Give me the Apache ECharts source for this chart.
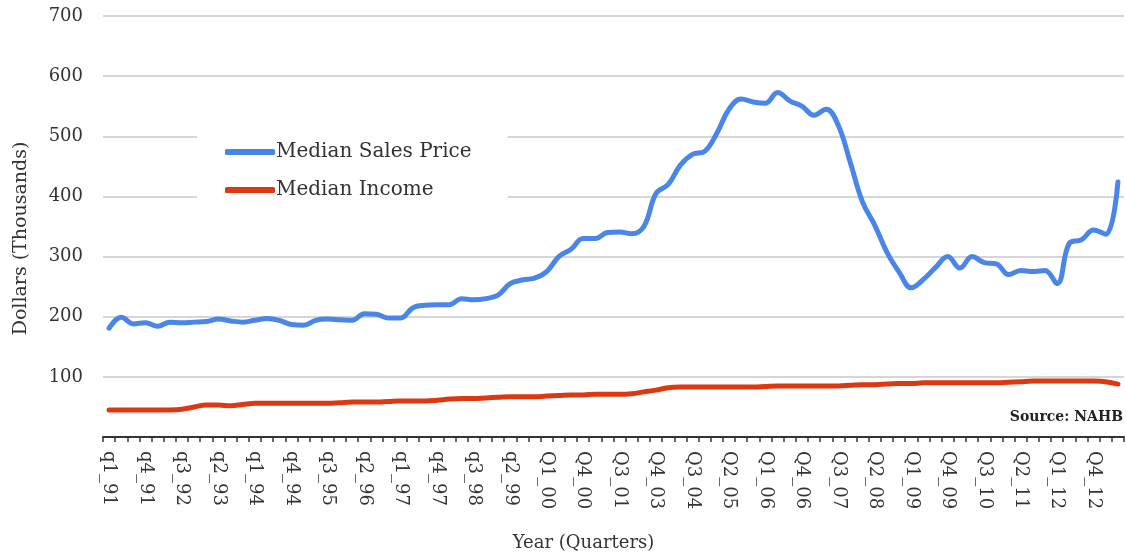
<!DOCTYPE html>
<html lang="en">
<head>
    <meta charset="UTF-8">
    <title>Median Sales Price vs Median Income</title>
    <script src="https://cdn.jsdelivr.net/npm/echarts@6.0.0/dist/echarts.min.js"></script>
    <style>
        html, body { margin: 0; padding: 0; background: #fff; }
        #chartmain { width: 1126px; height: 554px; }
    </style>
</head>
<body>
<div id="chartmain"></div>

<script>
    // quarters (the 2002 gap is in the source data)
    var quarters = [
        'q1_91', 'q2_91', 'q3_91', 'q4_91', 'q1_92', 'q2_92', 'q3_92', 'q4_92',
        'q1_93', 'q2_93', 'q3_93', 'q4_93', 'q1_94', 'q2_94', 'q3_94', 'q4_94',
        'q1_95', 'q2_95', 'q3_95', 'q4_95', 'q1_96', 'q2_96', 'q3_96', 'q4_96',
        'q1_97', 'q2_97', 'q3_97', 'q4_97', 'q1_98', 'q2_98', 'q3_98', 'q4_98',
        'q1_99', 'q2_99', 'q3_99', 'q4_99', 'Q1_00', 'Q2_00', 'Q3_00', 'Q4_00',
        'Q1_01', 'Q2_01', 'Q3_01', 'Q4_01', 'Q3_03', 'Q4_03',
        'Q1_04', 'Q2_04', 'Q3_04', 'Q4_04', 'Q1_05', 'Q2_05', 'Q3_05', 'Q4_05',
        'Q1_06', 'Q2_06', 'Q3_06', 'Q4_06', 'Q1_07', 'Q2_07', 'Q3_07', 'Q4_07',
        'Q1_08', 'Q2_08', 'Q3_08', 'Q4_08', 'Q1_09', 'Q2_09', 'Q3_09', 'Q4_09',
        'Q1_10', 'Q2_10', 'Q3_10', 'Q4_10', 'Q1_11', 'Q2_11', 'Q3_11', 'Q4_11',
        'Q1_12', 'Q2_12', 'Q3_12', 'Q4_12', 'Q1_13', 'Q2_13'
    ];

    // thousands of dollars
    var salesPrice = [
        181, 199, 188, 190, 184, 191, 190, 191, 192, 196,
        193, 191, 194, 197, 194, 187, 186, 194, 196, 195,
        194, 205, 204, 198, 198, 215, 219, 220, 220, 230,
        228, 230, 236, 255, 261, 264, 275, 300, 312, 330,
        330, 340, 341, 338, 350, 405, 420, 452, 470, 475,
        505, 545, 562, 557, 555, 573, 559, 550, 535, 545,
        518, 455, 390, 352, 307, 274, 248, 262, 282, 300,
        281, 300, 290, 288, 270, 277, 275, 277, 255, 322,
        328, 344, 337, 424
    ];

    var income = [
        45, 45, 45, 45, 45, 45, 46, 50, 53, 53,
        52, 54, 56, 56, 56, 56, 56, 56, 56, 57,
        58, 58, 58, 59, 60, 60, 60, 61, 63, 64,
        64, 65, 66, 67, 67, 67, 68, 69, 70, 70,
        71, 71, 71, 72, 75, 78, 82, 83, 83, 83,
        83, 83, 83, 83, 84, 85, 85, 85, 85, 85,
        85, 86, 87, 87, 88, 89, 89, 90, 90, 90,
        90, 90, 90, 90, 91, 92, 93, 93, 93, 93,
        93, 93, 92, 88
    ];

    var yTicks = [0, 700, 100];

    var font = 'DejaVu Serif';

    var option = {
        animation: false,
        backgroundColor: '#fff',
        grid: { left: 103, right: 2, top: 16, bottom: 117, outerBoundsMode: 'none' },
        legend: {
            left: 197,
            top: 134,
            orient: 'vertical',
            backgroundColor: '#fff',
            padding: [8, 36, 8, 28],
            itemGap: 18,
            itemWidth: 50,
            itemHeight: 6,
            icon: 'roundRect',
            textStyle: { fontFamily: font, fontSize: 20, color: '#333', padding: [0, 0, 0, -4] },
            data: ['Median Sales Price', 'Median Income']
        },
        xAxis: {
            type: 'category',
            data: quarters,
            boundaryGap: true,
            name: 'Year (Quarters)',
            nameLocation: 'middle',
            nameGap: 97,
            nameTextStyle: { fontFamily: font, fontSize: 18, color: '#333', padding: [0, 60, 0, 0] },
            axisLine: { lineStyle: { color: '#333', width: 2 } },
            axisTick: { show: true, interval: 0, length: 5, lineStyle: { color: '#333', width: 1.5 } },
            axisLabel: {
                interval: 2,
                rotate: -90,
                margin: 14,
                fontFamily: font,
                fontSize: 18,
                color: '#333'
            },
            splitLine: { show: false }
        },
        yAxis: {
            type: 'value',
            min: yTicks[0],
            max: yTicks[1],
            interval: yTicks[2],
            name: 'Dollars (Thousands)',
            nameLocation: 'middle',
            nameGap: 72,
            nameTextStyle: { fontFamily: font, fontSize: 19, color: '#333', padding: [0, 24, 0, 0] },
            axisLine: { show: false },
            axisTick: { show: false },
            axisLabel: {
                margin: 20,
                fontFamily: font,
                fontSize: 18,
                color: '#333',
                formatter: function (v) { return v === 0 ? '' : v; }
            },
            splitLine: { lineStyle: { color: '#c8c8c8', width: 1.5 } }
        },
        graphic: [{
            type: 'text',
            right: 3,
            top: 410,
            style: { text: 'Source: NAHB', fontFamily: font, fontSize: 14, fontWeight: 'bold', fill: '#222' }
        }],
        series: [{
            name: 'Median Sales Price',
            type: 'line',
            data: salesPrice,
            smooth: 0.4,
            showSymbol: false,
            color: '#4a86e8',
            lineStyle: { width: 5, cap: 'round', join: 'round' },
            z: 3
        }, {
            name: 'Median Income',
            type: 'line',
            data: income,
            smooth: 0.4,
            showSymbol: false,
            color: '#dc3912',
            lineStyle: { width: 5, cap: 'round', join: 'round' },
            z: 2
        }]
    };

    var myChart = echarts.init(document.getElementById('chartmain'));
    myChart.setOption(option);
</script>
</body>
</html>
